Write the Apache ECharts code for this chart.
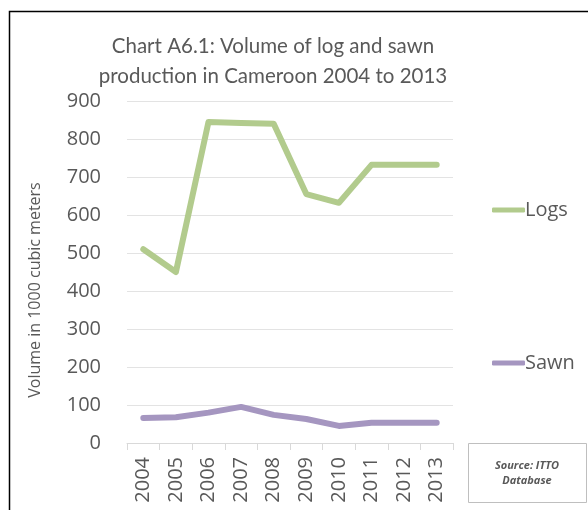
<!DOCTYPE html>
<html>
<head>
<meta charset="utf-8">
<script src="https://cdn.jsdelivr.net/npm/echarts@6/dist/echarts.min.js"></script>
<style>html,body{margin:0;padding:0;background:#fff;}#c{width:588px;height:510px;}</style>
</head>
<body>
<div id="c"></div>
<script>
const years = ['2004','2005','2006','2007','2008','2009','2010','2011','2012','2013'];
const logs = [510, 450, 845, 842, 840, 655, 632, 732, 732, 732];
const sawn = [66, 68, 80, 95, 74, 63, 45, 53, 53, 53];
const yTicks = {min: 0, max: 900, interval: 100};

const chart = echarts.init(document.getElementById('c'));
const font = '"Open Sans", sans-serif';
chart.setOption({
  animation: false,
  backgroundColor: '#fff',
  textStyle: {fontFamily: font},
  grid: {left: 127, right: 135, top: 101, bottom: 67},
  legend: [
    {data: ['Logs'], left: 487, top: 195, orient: 'vertical', itemWidth: 33, itemHeight: 5, itemGap: 0,
     icon: 'roundRect', textStyle: {fontSize: 20, color: '#595959', fontFamily: font, padding: [0,0,0,-5]}},
    {data: ['Sawn'], left: 487, top: 348, orient: 'vertical', itemWidth: 33, itemHeight: 5, itemGap: 0,
     icon: 'roundRect', textStyle: {fontSize: 20, color: '#595959', fontFamily: font, padding: [0,0,0,-5]}}
  ],
  xAxis: {
    type: 'category', data: years, boundaryGap: true,
    axisLine: {lineStyle: {color: '#d9d9d9', width: 1}},
    axisTick: {show: true, length: 7, lineStyle: {color: '#d9d9d9'}},
    axisLabel: {rotate: 90, fontSize: 20, color: '#595959', margin: 14, fontFamily: font}
  },
  yAxis: {
    type: 'value', min: yTicks.min, max: yTicks.max, interval: yTicks.interval,
    axisLine: {show: false}, axisTick: {show: false},
    splitLine: {lineStyle: {color: '#e3e3e3', width: 1}},
    axisLabel: {fontSize: 20, color: '#595959', margin: 26, fontFamily: font}
  },
  series: [
    {name: 'Logs', type: 'line', data: logs, symbol: 'none', color: '#b2cb8d',
     lineStyle: {width: 6, cap: 'round', join: 'round', color: '#b2cb8d'}},
    {name: 'Sawn', type: 'line', data: sawn, symbol: 'none', color: '#a596c0',
     lineStyle: {width: 6, cap: 'round', join: 'round', color: '#a596c0'}}
  ],
  graphic: [
    {type: 'rect', shape: {x: 9.5, y: 11.5, width: 600, height: 520}, style: {fill: null, stroke: '#000', lineWidth: 1.5}, silent: true},
    {type: 'text', x: 273, y: 31, style: {text: 'Chart A6.1: Volume of log and sawn\nproduction in Cameroon 2004 to 2013',
      font: '20.5px Lato', fill: '#595959', textAlign: 'center', lineHeight: 30}},
    {type: 'text', x: 35, y: 290, rotation: Math.PI/2, style: {text: 'Volume in 1000 cubic meters', font: '16px "Open Sans"',
      fill: '#595959', textAlign: 'center', textVerticalAlign: 'middle'}},
    {type: 'rect', shape: {x: 468.5, y: 443.5, width: 118, height: 59}, style: {fill: '#fff', stroke: '#bfbfbf', lineWidth: 1}},
    {type: 'text', x: 527, y: 473, style: {text: 'Source: ITTO\nDatabase', font: 'italic bold 11px "Open Sans"',
      fill: '#595959', textAlign: 'center', textVerticalAlign: 'middle', lineHeight: 15}}
  ]
});
</script>
</body>
</html>
